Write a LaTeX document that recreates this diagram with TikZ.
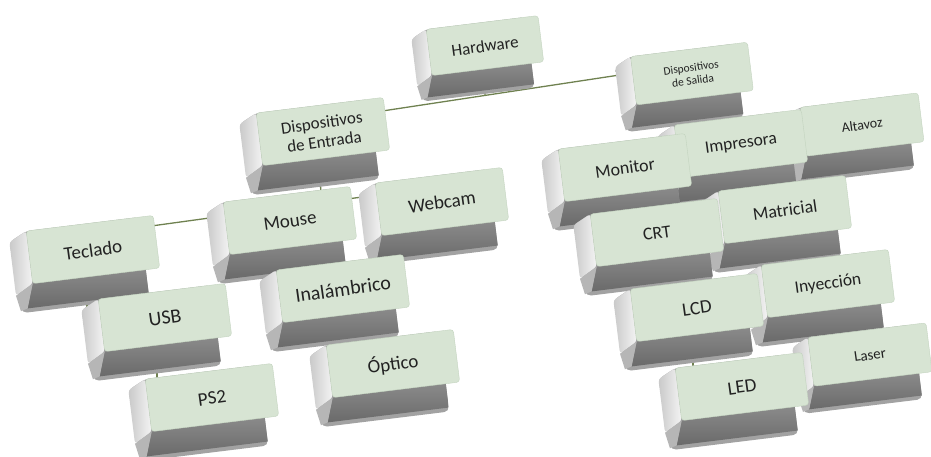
\documentclass[tikz,border=0pt]{standalone}
\usepackage{fontspec}
\setmainfont{Carlito}
\usetikzlibrary{calc,backgrounds}
\definecolor{keygreen}{HTML}{D7E4D3}
\definecolor{keyedge}{HTML}{C3D3BF}
\definecolor{rim}{HTML}{A2A2A2}
\definecolor{fronttop}{HTML}{8A8A8A}
\definecolor{frontbot}{HTML}{6A6A6A}
\definecolor{leftdark}{HTML}{C9C9C9}
\definecolor{leftlight}{HTML}{F4F4F4}
\definecolor{bevel}{HTML}{B6B6B6}
\definecolor{linkcol}{HTML}{6F8150}
\definecolor{txtcol}{HTML}{222222}
\tikzset{
  keytext/.style={text=txtcol, align=center, inner sep=0pt},
  link/.style={draw=linkcol, line width=1.3pt},
}
% name, x, y, scale, {size}{skip}, text
\newcommand{\keycap}[6]{%
  \begin{scope}[shift={(#2,-#3)},rotate=7,scale=#4]
    \fill[rim,rounded corners=5] (-82,18) -- (-64,27) -- (50,27) -- (50,-54) -- (-78,-54) -- cycle;
    \shade[top color=fronttop,bottom color=frontbot] (-64,-26) -- (50,-26) -- (50,-50) -- (-72,-50) -- cycle;
    \shade[left color=leftdark,right color=leftlight,rounded corners=3] (-82,18) -- (-64,27) -- (-64,-26) -- (-82,-36) -- cycle;
    \fill[bevel] (-82,-36) -- (-64,-26) -- (-72,-50) -- (-79,-52) -- cycle;
    \fill[keygreen,draw=keyedge,rounded corners=3] (-64,-26) rectangle (64,27);
    \node[keytext,rotate=8,font=\fontsize#5\selectfont] (#1) at (0,0) {#6};
  \end{scope}}
\begin{document}
\begin{tikzpicture}[x=1pt,y=1pt]
\useasboundingbox (0,0) rectangle (931,-456);
\keycap{hardware}{485}{46}{0.88}{{17}{17}}{Hardware}
\keycap{salida}{692}{74}{0.92}{{11.5}{13}}{Dispositivos\\de Salida}
\keycap{altavoz}{862}{125}{0.93}{{14}{14}}{Altavoz}
\keycap{entrada}{323}{132}{1}{{17}{19}}{Dispositivos\\de Entrada}
\keycap{impresora}{741}{144}{1}{{17.5}{17.5}}{Impresora}
\keycap{monitor}{625}{168}{1}{{18}{18}}{Monitor}
\keycap{webcam}{442}{202}{1}{{19}{19}}{Webcam}
\keycap{matricial}{785}{210}{1}{{18}{18}}{Matricial}
\keycap{mouse}{290}{221}{1}{{19}{19}}{Mouse}
\keycap{crt}{657}{233}{1}{{18}{18}}{CRT}
\keycap{teclado}{93}{250}{1}{{19}{19}}{Teclado}
\keycap{inyeccion}{828}{284}{1}{{17.5}{17.5}}{Inyección}
\keycap{inalambrico}{343}{289}{1}{{20}{20}}{Inalámbrico}
\keycap{lcd}{697}{308}{1}{{19}{19}}{LCD}
\keycap{usb}{165}{318}{1}{{20}{20}}{USB}
\keycap{laser}{870}{355}{0.93}{{15}{15}}{Laser}
\keycap{optico}{393}{364}{1}{{19}{19}}{Óptico}
\keycap{led}{742}{387}{1}{{19}{19}}{LED}
\keycap{ps2}{212}{398}{1}{{19}{19}}{PS2}
\begin{pgfonlayer}{background}
  % level 1
  \coordinate (mainL) at ($(entrada.center)+(0,12)$);
  \coordinate (mainR) at ($(salida.center)+(0,10)$);
  \coordinate (hwj) at ($(mainL)!0.439!(mainR)$);
  \draw[link] (mainL) -- (mainR);
  \draw[link] (hardware.center) -- (hwj);
  % input devices
  \coordinate (inL) at ($(teclado.center)+(0,16)$);
  \coordinate (inR) at ($(webcam.center)+(0,16)$);
  \coordinate (inj) at ($(inL)!0.655!(inR)$);
  \draw[link] (inL) -- (inR);
  \draw[link] ([xshift=-6]entrada.center) -- (inj);
  \draw[link] ([xshift=-6]teclado.center) -- ([xshift=-6]teclado.center |- usb.center);
  \draw[link] ([xshift=-8]usb.center) -- ([xshift=-8]usb.center |- ps2.center);
  \draw[link] (mouse.center) -- (inalambrico.center);
  \draw[link] ([xshift=-4]inalambrico.center) -- ([xshift=-4]inalambrico.center |- optico.center);
  % output devices
  \draw[link] (monitor.center) -- (altavoz.center);
  \draw[link] ([xshift=5]salida.center) -- ([xshift=5]salida.center |- impresora.center);
  \draw[link] (monitor.center) -- (crt.center);
  \draw[link] ([xshift=-6]crt.center) -- ([xshift=-6]crt.center |- lcd.center);
  \draw[link] ([xshift=-4]lcd.center) -- ([xshift=-4]lcd.center |- led.center);
  \draw[link] ([xshift=-5]impresora.center) -- ([xshift=-5]impresora.center |- matricial.center);
  \draw[link] ([xshift=-7]matricial.center) -- ([xshift=-7]matricial.center |- inyeccion.center);
  \draw[link] ([xshift=-5]inyeccion.center) -- ([xshift=-5]inyeccion.center |- laser.center);
\end{pgfonlayer}
\end{tikzpicture}
\end{document}
